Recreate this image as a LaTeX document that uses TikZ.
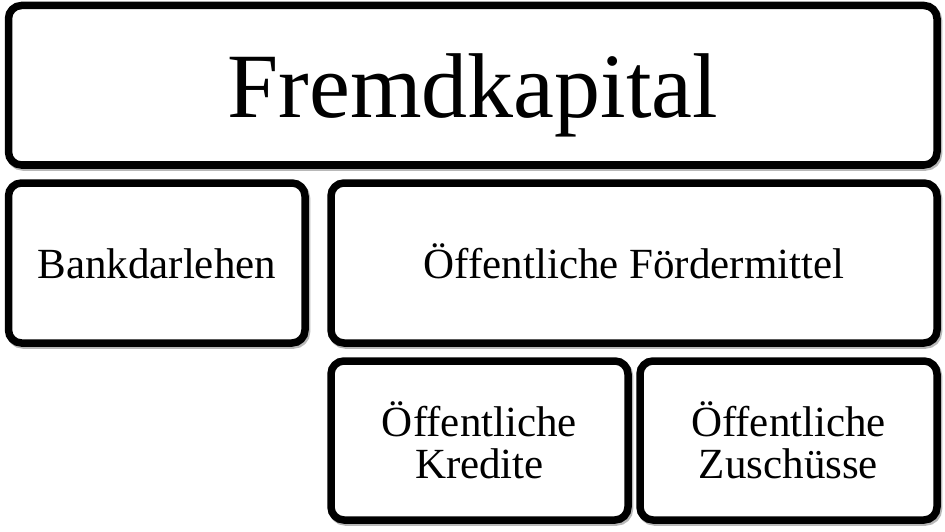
\documentclass[tikz,border=0pt]{standalone}
\usepackage{fontspec}
\setmainfont{Liberation Serif}
\usetikzlibrary{shadows}
\begin{document}
\begin{tikzpicture}[x=1pt,y=-1pt,
  box/.style={draw=black, fill=white, line width=7.5pt, rounded corners=13pt,
    inner sep=0pt, align=center,
    general shadow={shadow xshift=1.5pt, shadow yshift=-2pt, draw=black!28, line width=7.5pt, fill=black!28}},
  bigtext/.style={font={\fontsize{92pt}{96pt}\selectfont}, text height=64pt, text depth=0pt},
  midtext/.style={font={\fontsize{43pt}{42pt}\selectfont}, text height=30pt, text depth=0pt},
  twotext/.style={font={\fontsize{43pt}{42pt}\selectfont}}]
\useasboundingbox (0,0) rectangle (945,532);
\node[box, bigtext, minimum width=928.5pt, minimum height=159.5pt] (fk) at (472.75,85.25) {Fremdkapital};
\node[box, midtext, minimum width=296.5pt, minimum height=160pt] (bank) at (156.75,263) {Bankdarlehen};
\node[box, midtext, minimum width=606pt, minimum height=160pt] (foerd) at (634,263) {Öffentliche Fördermittel};
\node[box, twotext, minimum width=297pt, minimum height=159pt] (kred) at (479.5,440.5) {Öffentliche\\Kredite};
\node[box, twotext, minimum width=297pt, minimum height=159pt] (zusch) at (788.5,440.5) {Öffentliche\\Zuschüsse};
\end{tikzpicture}
\end{document}
